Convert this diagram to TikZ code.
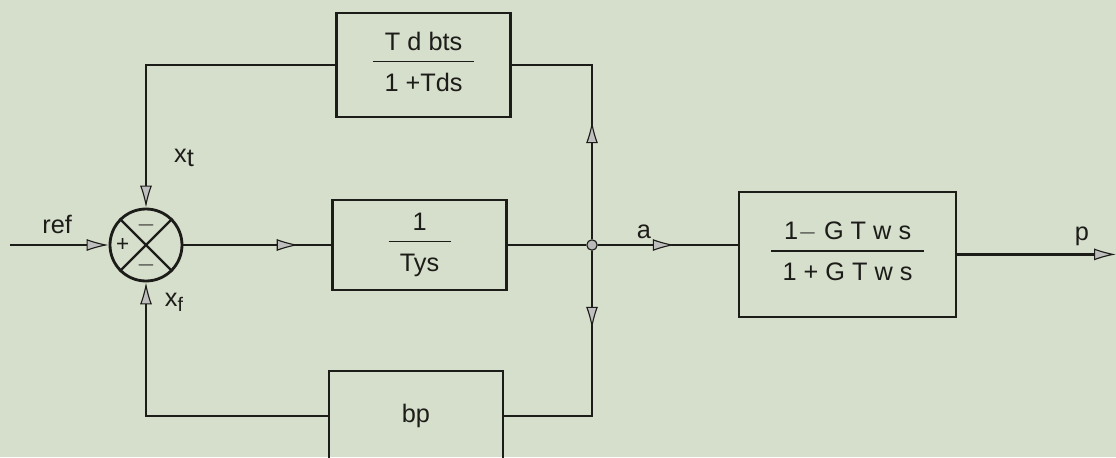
\documentclass[tikz,border=0pt]{standalone}
\usepackage{fontspec}
\setmainfont{Liberation Sans}
\usetikzlibrary{arrows.meta, positioning, decorations.markings}

\definecolor{paper}{RGB}{214,222,204}
\definecolor{ink}{RGB}{28,28,24}

\setlength{\arrayrulewidth}{1.4pt}
\newcommand{\blockfrac}[2]{%
  \begin{tabular}{@{\hspace{8pt}}c@{\hspace{8pt}}}#1\\[1pt]\hline\rule{0pt}{1.15em}#2\end{tabular}}

\begin{document}
\begin{tikzpicture}[
  flowtip/.tip  = {Latex[length=0.55cm, width=0.3cm, fill=gray!50, line width=0.8pt]},
  block/.style  = {draw=ink, line width=1.9pt, rectangle,
                   minimum width=4.35cm, minimum height=2.25cm,
                   align=center, font=\fontsize{18}{21}\selectfont, text=ink},
  summer/.style = {draw=ink, line width=2pt, circle,
                   minimum size=1.8cm, inner sep=0pt},
  sign/.style   = {font=\fontsize{16}{18}\selectfont, inner sep=0pt, text=ink},
  dot/.style    = {circle, fill=gray!55, draw=ink, line width=0.8pt,
                   inner sep=0pt, minimum size=0.26cm},
  wire/.style   = {draw=ink, line width=1.9pt},
  arr/.style    = {wire, -flowtip},
  midarr/.style = {wire, postaction={decorate},
                   decoration={markings, mark=at position #1 with {\arrow{flowtip}}}},
  lbl/.style    = {font=\fontsize{18}{21}\selectfont, inner sep=1pt, text=ink},
]

%-- paper
\path[use as bounding box, fill=paper] (0,0) rectangle (27.9,-11.425);
\clip (0,0) rectangle (27.9,-11.425);

%-- summing point
\node[summer] (sum) at (3.65,-6.125) {};
\draw[wire, line width=1.6pt] (sum.north west) -- (sum.south east)
                              (sum.north east) -- (sum.south west);
\node[sign] (splus) at ([xshift=-0.58cm]sum.center) {+};
\node[sign] (stop)  at ([yshift=0.5cm]sum.center)   {$-$};
\node[sign] (sbot)  at ([yshift=-0.5cm]sum.center)  {$-$};

%-- blocks
\node[block, minimum height=2.6cm] (damp) at (10.59,-1.625)
  {\blockfrac{T d bts}{1 +Tds}};
\node[block] (gov)   at (10.49,-6.125) {\blockfrac{1}{Tys}};
\node[block] (droop) at (10.4,-10.4)   {bp};
\node[block, minimum width=5.425cm, minimum height=3.125cm] (turb) at (21.19,-6.36)
  {\blockfrac{1$-$ G T w s}{1 + G T w s}};

%-- branch point and ends
\node[dot] (junc) at (14.8,-6.125) {};
\coordinate (refin) at (0.25,-6.125);
\coordinate (pout)  at (27.9,-6.36);

%-- forward path
\draw[arr] (refin) -- (sum.west);
\draw[midarr=0.78] (sum.east) -- (gov.west);
\draw[wire] (gov.east) -- (junc);
\draw[midarr=0.55] (junc) -- (junc -| turb.west);
\draw[arr] (turb.east) -- (pout);

%-- feedback paths
\draw[midarr=2.95cm] (junc) -- (junc |- damp.east) -- (damp.east);
\draw[arr] (damp.west) -- (sum |- damp.west) -- (sum.north);
\draw[midarr=1.95cm] (junc) -- (junc |- droop.east) -- (droop.east);
\draw[arr] (droop.west) -- (sum |- droop.west) -- (sum.south);

%-- labels
\node[lbl] (lref) at (1.43,-5.6)  {ref};
\node[lbl] (lxt)  at (4.6,-3.95)  {x\raisebox{-0.3ex}{t}};
\node[lbl] (lxf)  at (4.35,-7.55) {x\raisebox{-0.4ex}{\fontsize{14}{16}\selectfont f}};
\node[lbl] (la)   at (16.1,-5.8)  {a};
\node[lbl] (lp)   at (27.05,-5.9) {p};

\end{tikzpicture}
\end{document}
